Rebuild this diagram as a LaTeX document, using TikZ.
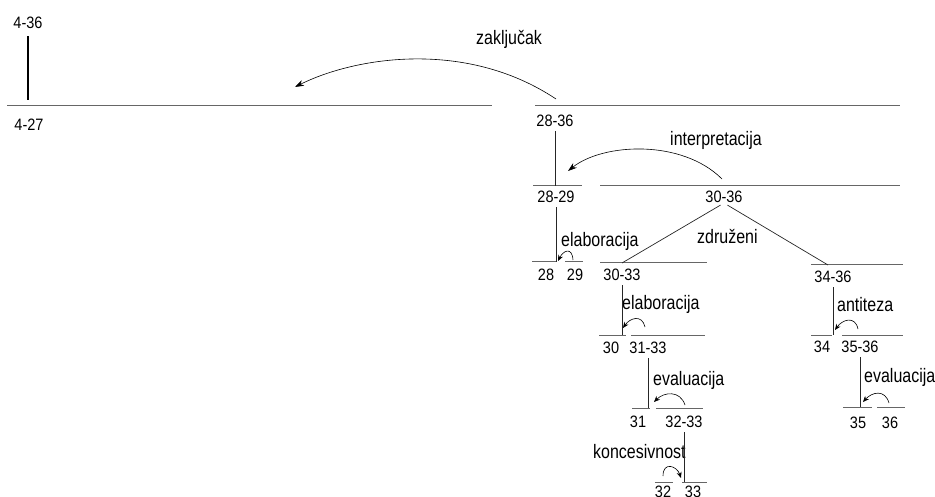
\documentclass[tikz,border=0pt]{standalone}
\usepackage{fontspec}
\setmainfont{Liberation Sans}
\newfontfamily\narrowfont[FakeStretch=0.82]{Liberation Sans}
\newfontfamily\numfont[FakeStretch=0.88]{Liberation Sans}
\usetikzlibrary{arrows.meta}

\begin{document}
\begin{tikzpicture}[x=1pt,y=-1pt,
	num/.style={inner sep=0pt,font=\numfont\fontsize{16.5}{16.5}\selectfont},
	rel/.style={inner sep=0pt,anchor=west,font=\narrowfont\fontsize{19.5}{19.5}\selectfont},
	span/.style={draw=black!60,line width=1pt},
	stem/.style={draw=black!85,line width=0.7pt,shorten <=4pt},
	bigarc/.style={-{Stealth[length=9pt,width=6pt]},line width=0.6pt},
	hook/.style={-{Stealth[length=6pt,width=5pt]},line width=0.6pt}]
		\useasboundingbox (0,0) rectangle (935,497);
		% spans
		\draw[span] (7,106) -- (492,106) coordinate (s427);
		\draw[span] (535,106) -- (900,106) coordinate (s2836);
		\draw[span] (533,186) -- (582,186) coordinate (s2829);
		\draw[span] (600,186) -- (900,186) coordinate (s3036);
		\draw[span] (532,262) -- (556,262) coordinate (s28);
		\draw[span] (565,262) -- (583,262) coordinate (s29);
		\draw[span] (600,263) -- (707,263) coordinate (s3033);
		\draw[span] (811,265) -- (903,265) coordinate (s3436);
		\draw[span] (599,335) -- (626,335) coordinate (s30);
		\draw[span] (631,335) -- (705,335) coordinate (s3133);
		\draw[span] (811,335) -- (832,335) coordinate (s34);
		\draw[span] (842,335) -- (903,335) coordinate (s3536);
		\draw[span] (632,408) -- (650,408) coordinate (s31);
		\draw[span] (656,408) -- (703,408) coordinate (s3233);
		\draw[span] (843,407) -- (872,407) coordinate (s35);
		\draw[span] (877,407) -- (905,407) coordinate (s36);
		\draw[span] (655,482) -- (673,482) coordinate (s32);
		\draw[span] (682,482) -- (707,482) coordinate (s33);
		% numbers
		\node[num] (n436) at (28,23) {4-36};
		\node[num] (n427) at (29,125) {4-27};
		\node[num] (n2836) at (555,121) {28-36};
		\node[num] (n2829) at (556,197) {28-29};
		\node[num] (n3036) at (724,197) {30-36};
		\node[num] (n28) at (546,275) {28};
		\node[num] (n29) at (575,275) {29};
		\node[num] (n3033) at (622,275) {30-33};
		\node[num] (n3436) at (833,277) {34-36};
		\node[num] (n30) at (611,348) {30};
		\node[num] (n3133) at (648,348) {31-33};
		\node[num] (n34) at (822,347) {34};
		\node[num] (n3536) at (860,347) {35-36};
		\node[num] (n31) at (638,422) {31};
		\node[num] (n3233) at (684,422) {32-33};
		\node[num] (n35) at (858,423) {35};
		\node[num] (n36) at (890,423) {36};
		\node[num] (n32) at (663,492) {32};
		\node[num] (n33) at (693,492) {33};
		% relations
		\node[rel] (zak) at (476,39) {zaključak};
		\node[rel] (int) at (670,140) {interpretacija};
		\node[rel] (ela1) at (561,241) {elaboracija};
		\node[rel] (zdr) at (697,236) {združeni};
		\node[rel] (ela2) at (622,304) {elaboracija};
		\node[rel] (eva1) at (653,380) {evaluacija};
		\node[rel] (kon) at (593,452) {koncesivnost};
		\node[rel] (ant) at (837,305) {antiteza};
		\node[rel] (eva2) at (864,377) {evaluacija};
		% stems
		\draw[stem,draw=black,line width=1.6pt,shorten <=7pt,shorten >=6pt] (n436.south) -- (n436.south |- s427);
		\draw[stem] (n2836.south) -- (n2836.south |- s2829);
		\draw[stem] (n2829.south) -- (n2829.south |- s28);
		\draw[stem] (n3033.south) -- (n3033.south |- s30);
		\draw[stem] (n3133.south) -- (n3133.south |- s31);
		\draw[stem] (n3233.south) -- (n3233.south |- s33);
		\draw[stem] (n3436.south) -- (n3436.south |- s34);
		\draw[stem] (n3536.south) -- (n3536.south |- s35);
		\coordinate (j3033) at (622,263);
		\coordinate (j3436) at (828,265);
		\draw[stem] (n3036.south) -- (j3033);
		\draw[stem] (n3036.south) -- (j3436);
		% arcs
		\coordinate (zakA) at (556,99);
		\coordinate (zakB) at (295,87);
		\draw[bigarc] (zakA) .. controls +(-90,-60) and +(60,-30) .. (zakB);
		\coordinate (intA) at (722,179);
		\coordinate (intB) at (568,171);
		\draw[bigarc] (intA) .. controls +(-40,-40) and +(35,-28) .. (intB);
		\coordinate (ela1A) at (573,260);
		\coordinate (ela1B) at (558,261);
		\draw[hook] (ela1A) .. controls +(-1,-14) and +(5,-10) .. (ela1B);
		\coordinate (ela2A) at (645,327);
		\coordinate (ela2B) at (623,328);
		\draw[hook] (ela2A) .. controls +(-3,-13) and +(7,-10) .. (ela2B);
		\coordinate (eva1A) at (685,405);
		\coordinate (eva1B) at (654,402);
		\draw[hook] (eva1A) .. controls +(-5,-15) and +(10,-10) .. (eva1B);
		\coordinate (konA) at (663,476);
		\coordinate (konB) at (681,478);
		\draw[hook] (konA) .. controls +(0,-15) and +(-4,-12) .. (konB);
		\coordinate (antA) at (858,329);
		\coordinate (antB) at (835,330);
		\draw[hook] (antA) .. controls +(-3,-14) and +(7,-10) .. (antB);
		\coordinate (eva2A) at (889,403);
		\coordinate (eva2B) at (863,402);
		\draw[hook] (eva2A) .. controls +(-4,-14) and +(9,-10) .. (eva2B);
\end{tikzpicture}
\end{document}
